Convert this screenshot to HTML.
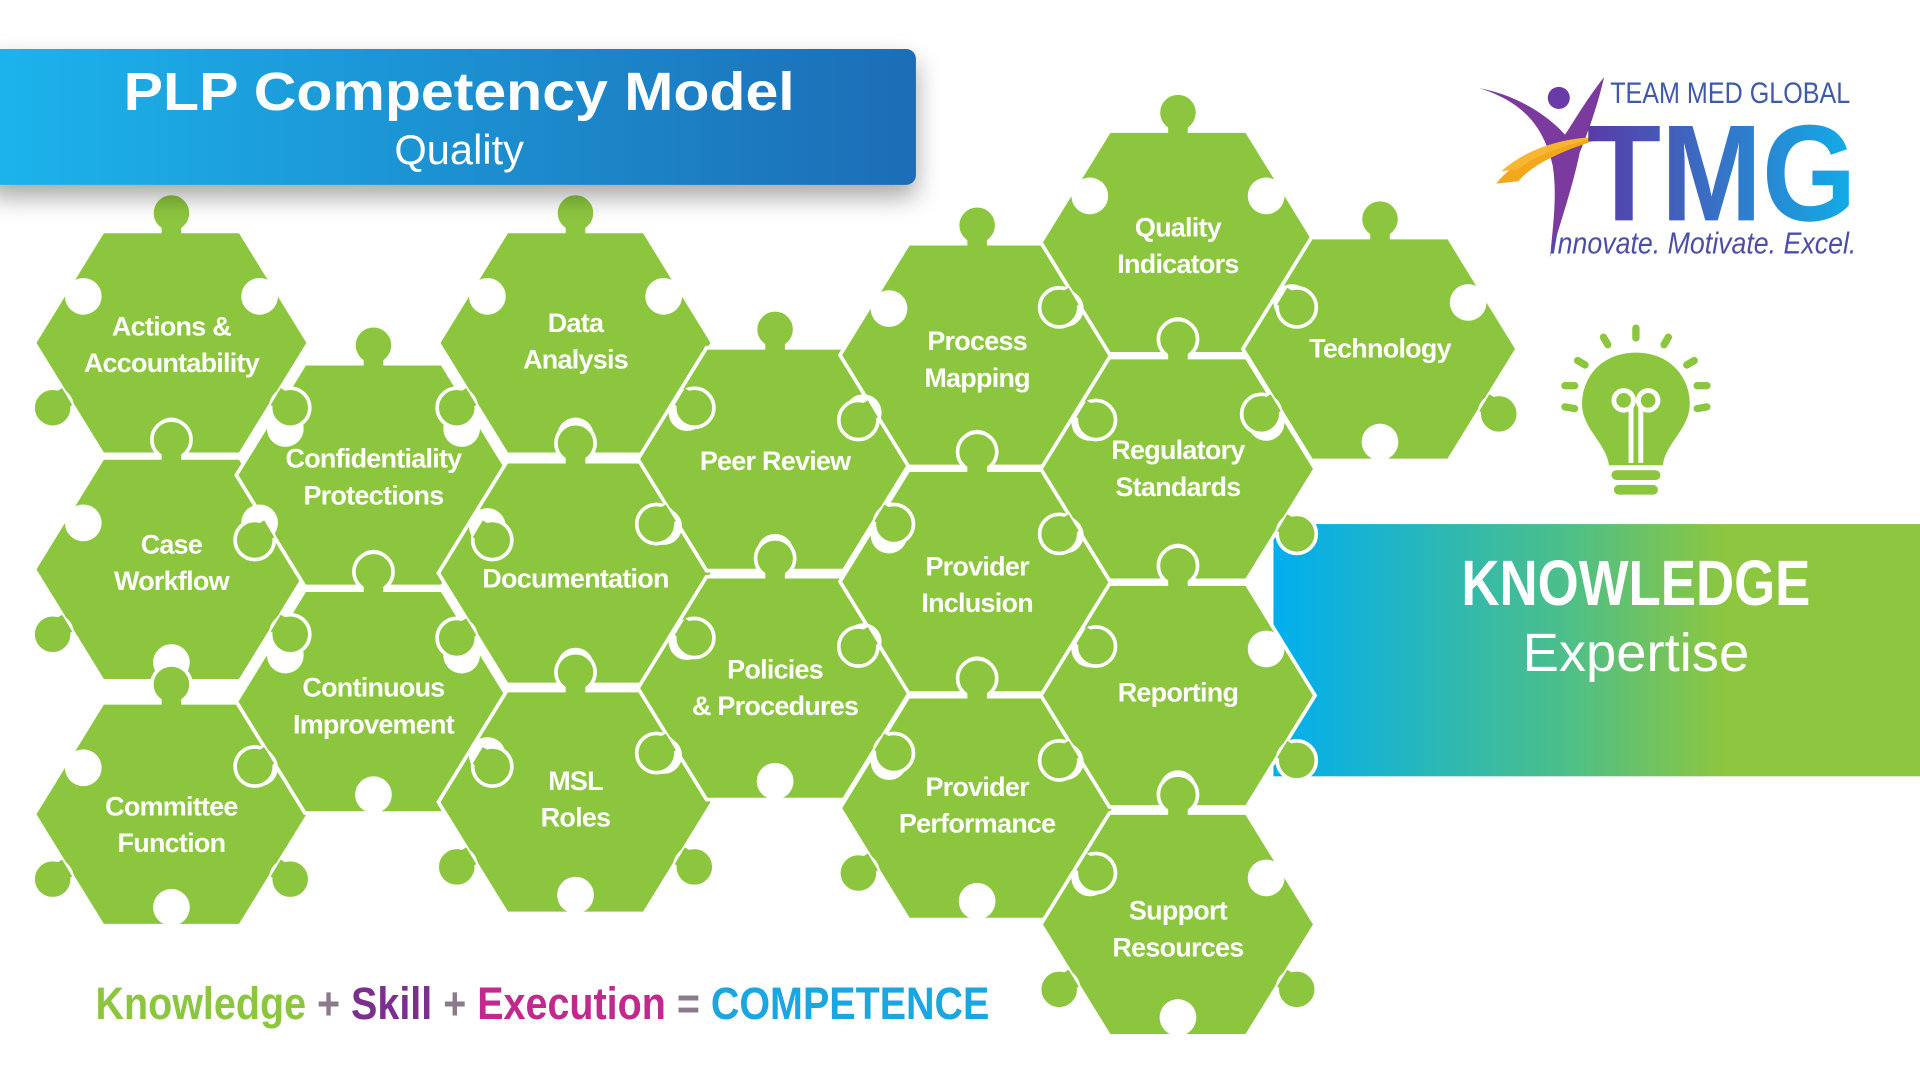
<!DOCTYPE html>
<html><head><meta charset="utf-8"><style>
html,body{margin:0;padding:0;background:#fff;width:1920px;height:1079px;overflow:hidden}
svg{display:block}
.t{font-family:"Liberation Sans Narrow","Liberation Sans",sans-serif;font-weight:bold;fill:#fff;font-size:22px;letter-spacing:-0.6px;text-anchor:middle}
</style></head><body>
<svg width="1920" height="1079" viewBox="0 0 1568 881.2" preserveAspectRatio="none">
<defs>
<linearGradient id="hb" x1="0" x2="1"><stop offset="0" stop-color="#1cb4ec"/><stop offset="1" stop-color="#1b6db6"/></linearGradient>
<linearGradient id="kb" x1="0" x2="1"><stop offset="0" stop-color="#00aeef"/><stop offset="0.45" stop-color="#4cbf8a"/><stop offset="0.7" stop-color="#8dc63f"/><stop offset="1" stop-color="#8dc63f"/></linearGradient>
<linearGradient id="tmg" x1="0" x2="1"><stop offset="0" stop-color="#5a3aa6"/><stop offset="1" stop-color="#10aee8"/></linearGradient>
<filter id="sh" x="-5%" y="-20%" width="110%" height="160%"><feDropShadow dx="0" dy="10" stdDeviation="10" flood-color="#000" flood-opacity="0.35"/></filter>
<g id="hx"><polygon points="-112,0 -56,-91 56,-91 112,0 56,91 -56,91" fill="#8cc63f" stroke="#fff" stroke-width="3"/></g>
<g id="ho" fill="#fff"><circle cx="0" cy="76" r="15"/><circle cx="-72" cy="-38" r="15"/><circle cx="72" cy="-38" r="15"/></g>
<g id="kn" fill="#8cc63f" stroke="#fff" stroke-width="3"><circle cx="0" cy="-106" r="16"/><circle cx="-97" cy="53" r="16"/><circle cx="97" cy="53" r="16"/></g>
<g id="kf" fill="#8cc63f"><rect x="-8" y="-100" width="16" height="12"/><rect x="-100" y="40" width="16" height="16" transform="rotate(-31 -92 48)"/><rect x="84" y="40" width="16" height="16" transform="rotate(31 92 48)"/></g>
</defs>

<rect x="1040" y="428" width="528" height="206" fill="url(#kb)"/>
<text x="1336" y="494" font-family="'Liberation Sans Narrow','Liberation Sans',sans-serif" font-weight="bold" font-size="52" fill="#fff" text-anchor="middle" textLength="285" lengthAdjust="spacingAndGlyphs">KNOWLEDGE</text>
<text x="1336" y="548" font-family="'Liberation Sans Narrow','Liberation Sans',sans-serif" font-size="44" fill="#fff" text-anchor="middle" textLength="185" lengthAdjust="spacingAndGlyphs">Expertise</text>

<g>
<use href="#hx" x="140" y="280"/><use href="#hx" x="140" y="465"/><use href="#hx" x="140" y="665"/>
<use href="#hx" x="305" y="388"/><use href="#hx" x="305" y="573"/>
<use href="#hx" x="470" y="280"/><use href="#hx" x="470" y="468"/><use href="#hx" x="470" y="655"/>
<use href="#hx" x="633" y="375"/><use href="#hx" x="633" y="562"/>
<use href="#hx" x="798" y="290"/><use href="#hx" x="798" y="475"/><use href="#hx" x="798" y="660"/>
<use href="#hx" x="962" y="198"/><use href="#hx" x="962" y="383"/><use href="#hx" x="962" y="568"/><use href="#hx" x="962" y="755"/>
<use href="#hx" x="1127" y="285"/>
</g>
<g>
<use href="#ho" x="140" y="280"/><use href="#ho" x="140" y="465"/><use href="#ho" x="140" y="665"/>
<use href="#ho" x="305" y="388"/><use href="#ho" x="305" y="573"/>
<use href="#ho" x="470" y="280"/><use href="#ho" x="470" y="468"/><use href="#ho" x="470" y="655"/>
<use href="#ho" x="633" y="375"/><use href="#ho" x="633" y="562"/>
<use href="#ho" x="798" y="290"/><use href="#ho" x="798" y="475"/><use href="#ho" x="798" y="660"/>
<use href="#ho" x="962" y="198"/><use href="#ho" x="962" y="383"/><use href="#ho" x="962" y="568"/><use href="#ho" x="962" y="755"/>
<use href="#ho" x="1127" y="285"/>
</g>
<g>
<use href="#kn" x="140" y="280"/><use href="#kn" x="140" y="465"/><use href="#kn" x="140" y="665"/>
<use href="#kn" x="305" y="388"/><use href="#kn" x="305" y="573"/>
<use href="#kn" x="470" y="280"/><use href="#kn" x="470" y="468"/><use href="#kn" x="470" y="655"/>
<use href="#kn" x="633" y="375"/><use href="#kn" x="633" y="562"/>
<use href="#kn" x="798" y="290"/><use href="#kn" x="798" y="475"/><use href="#kn" x="798" y="660"/>
<use href="#kn" x="962" y="198"/><use href="#kn" x="962" y="383"/><use href="#kn" x="962" y="568"/><use href="#kn" x="962" y="755"/>
<use href="#kn" x="1127" y="285"/>
<use href="#kf" x="140" y="280"/><use href="#kf" x="140" y="465"/><use href="#kf" x="140" y="665"/>
<use href="#kf" x="305" y="388"/><use href="#kf" x="305" y="573"/>
<use href="#kf" x="470" y="280"/><use href="#kf" x="470" y="468"/><use href="#kf" x="470" y="655"/>
<use href="#kf" x="633" y="375"/><use href="#kf" x="633" y="562"/>
<use href="#kf" x="798" y="290"/><use href="#kf" x="798" y="475"/><use href="#kf" x="798" y="660"/>
<use href="#kf" x="962" y="198"/><use href="#kf" x="962" y="383"/><use href="#kf" x="962" y="568"/><use href="#kf" x="962" y="755"/>
<use href="#kf" x="1127" y="285"/>
</g>

<rect x="-10" y="40" width="758" height="111" rx="8" fill="url(#hb)" filter="url(#sh)"/>
<text x="375" y="90" font-family="'Liberation Sans',sans-serif" font-weight="bold" font-size="44" fill="#fff" text-anchor="middle" textLength="548" lengthAdjust="spacingAndGlyphs">PLP Competency Model</text>
<text x="375" y="134" font-family="'Liberation Sans',sans-serif" font-size="34" fill="#fff" text-anchor="middle">Quality</text>

<text class="t"><tspan x="140" y="274">Actions &amp;</tspan><tspan x="140" y="304">Accountability</tspan></text>
<text class="t"><tspan x="140" y="452">Case</tspan><tspan x="140" y="482">Workflow</tspan></text>
<text class="t"><tspan x="140" y="666">Committee</tspan><tspan x="140" y="696">Function</tspan></text>
<text class="t"><tspan x="305" y="382">Confidentiality</tspan><tspan x="305" y="412">Protections</tspan></text>
<text class="t"><tspan x="305" y="569">Continuous</tspan><tspan x="305" y="599">Improvement</tspan></text>
<text class="t"><tspan x="470" y="271">Data</tspan><tspan x="470" y="301">Analysis</tspan></text>
<text class="t"><tspan x="470" y="480">Documentation</tspan></text>
<text class="t"><tspan x="470" y="645">MSL</tspan><tspan x="470" y="675">Roles</tspan></text>
<text class="t"><tspan x="633" y="384">Peer Review</tspan></text>
<text class="t"><tspan x="633" y="554">Policies</tspan><tspan x="633" y="584">&amp; Procedures</tspan></text>
<text class="t"><tspan x="798" y="286">Process</tspan><tspan x="798" y="316">Mapping</tspan></text>
<text class="t"><tspan x="798" y="470">Provider</tspan><tspan x="798" y="500">Inclusion</tspan></text>
<text class="t"><tspan x="798" y="650">Provider</tspan><tspan x="798" y="680">Performance</tspan></text>
<text class="t"><tspan x="962" y="193">Quality</tspan><tspan x="962" y="223">Indicators</tspan></text>
<text class="t"><tspan x="962" y="375">Regulatory</tspan><tspan x="962" y="405">Standards</tspan></text>
<text class="t"><tspan x="962" y="573">Reporting</tspan></text>
<text class="t"><tspan x="962" y="751">Support</tspan><tspan x="962" y="781">Resources</tspan></text>
<text class="t"><tspan x="1127" y="292">Technology</tspan></text>

<text x="78" y="832" font-family="'Liberation Sans Narrow','Liberation Sans',sans-serif" font-weight="bold" font-size="37" textLength="730" lengthAdjust="spacingAndGlyphs"><tspan fill="#8cc63f">Knowledge </tspan><tspan fill="#8a7a8a">+ </tspan><tspan fill="#7b2f8e">Skill </tspan><tspan fill="#8a7a8a">+ </tspan><tspan fill="#c2298f">Execution </tspan><tspan fill="#8a7a8a">= </tspan><tspan fill="#1aa6e0">COMPETENCE</tspan></text>

<path d="M1208,72 C1250,85 1262,110 1268,135 C1272,160 1268,185 1266,210 C1275,180 1285,150 1290,125 C1298,105 1305,85 1310,63 C1295,82 1285,100 1278,110 C1265,95 1240,78 1208,72 Z" fill="#7a3a9e"/>
<circle cx="1273" cy="80" r="9" fill="#6a3aa8"/>
<path d="M1222,150 C1240,125 1290,112 1318,110 C1290,118 1255,130 1240,148 Z" fill="#f3a81c"/>
<path d="M1226,140 C1250,118 1285,112 1305,112 C1280,118 1255,126 1240,138 Z" fill="#f7b733"/>
<text x="1315" y="84" font-family="'Liberation Sans Narrow','Liberation Sans',sans-serif" font-size="24" fill="#3f5aa6" textLength="196" lengthAdjust="spacingAndGlyphs">TEAM MED GLOBAL</text>
<text x="1296" y="180" font-family="'Liberation Sans',sans-serif" font-weight="bold" font-size="112" fill="url(#tmg)" textLength="220" lengthAdjust="spacingAndGlyphs">TMG</text>
<text x="1266" y="207" font-family="'Liberation Sans Narrow','Liberation Sans',sans-serif" font-style="italic" font-size="25" fill="#4a4ea6" textLength="250" lengthAdjust="spacingAndGlyphs">Innovate. Motivate. Excel.</text>

<g fill="#8cc63f">
<path d="M1336,288 C1308,288 1292,308 1292,330 C1292,350 1312,362 1314,380 L1358,380 C1360,362 1380,350 1380,330 C1380,308 1364,288 1336,288 Z"/>
<rect x="1316" y="384" width="40" height="8" rx="4"/><rect x="1318" y="396" width="36" height="8" rx="4"/>
<rect x="1333" y="265" width="6" height="14" rx="3"/>
<rect x="1308" y="272" width="6" height="13" rx="3" transform="rotate(-30 1311 278)"/>
<rect x="1358" y="272" width="6" height="13" rx="3" transform="rotate(30 1361 278)"/>
<rect x="1288" y="290" width="6" height="13" rx="3" transform="rotate(-60 1291 296)"/>
<rect x="1378" y="290" width="6" height="13" rx="3" transform="rotate(60 1381 296)"/>
<rect x="1275" y="312" width="14" height="6" rx="3"/><rect x="1383" y="312" width="14" height="6" rx="3"/>
<rect x="1275" y="330" width="14" height="6" rx="3" transform="rotate(10 1282 333)"/><rect x="1383" y="330" width="14" height="6" rx="3" transform="rotate(-10 1390 333)"/>
</g>
<g fill="none" stroke="#fff" stroke-width="4"><circle cx="1326" cy="327" r="8"/><circle cx="1346" cy="327" r="8"/><line x1="1332" y1="333" x2="1332" y2="378"/><line x1="1340" y1="333" x2="1340" y2="378"/></g>
</svg>
</body></html>
